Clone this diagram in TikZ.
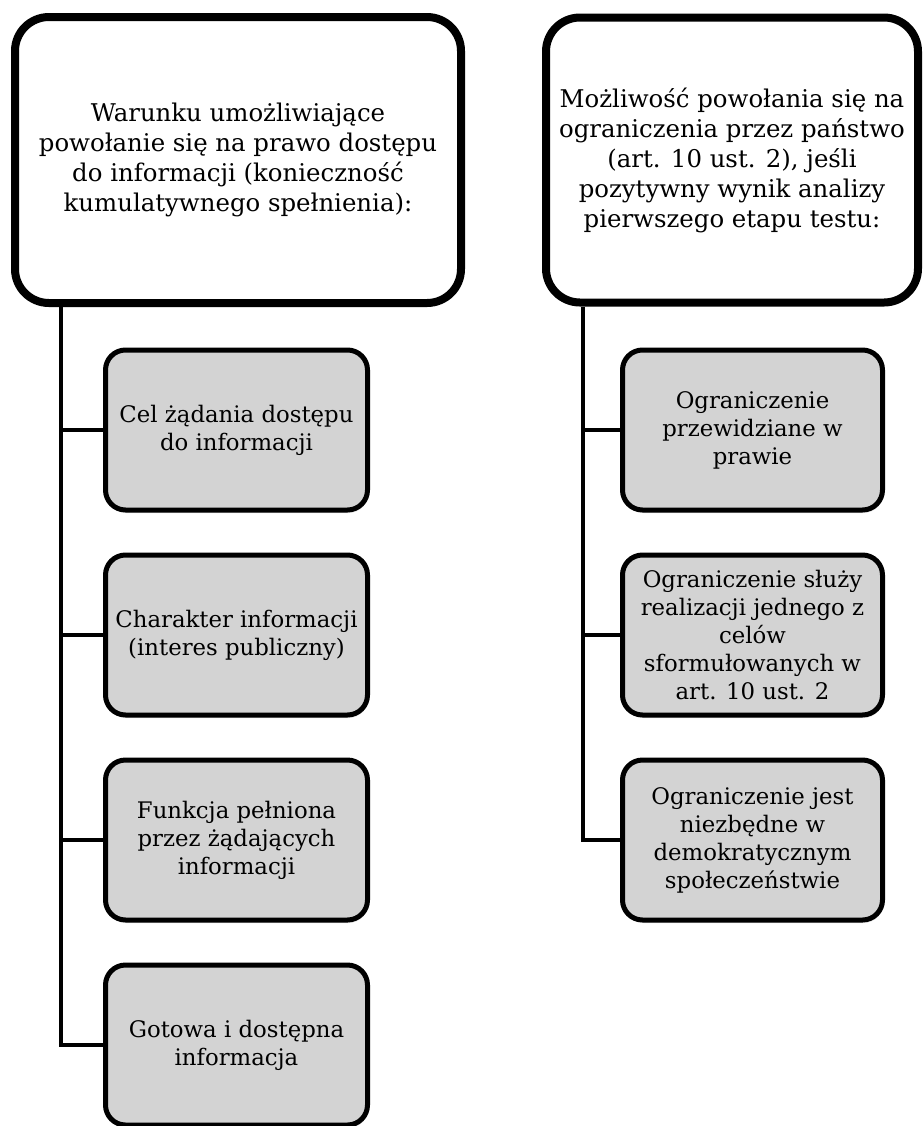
\documentclass[tikz,border=0pt]{standalone}
\usepackage{fontspec}
\setmainfont{DejaVu Serif}
\usepackage{tikz}
\usetikzlibrary{shadows}
\definecolor{boxgray}{RGB}{211,211,211}
\tikzset{
  softshadow/.style={drop shadow={opacity=0.2,shadow xshift=0.5pt,shadow yshift=-1.5pt}},
  bigbox/.style={draw,line width=4pt,rounded corners=17pt,fill=white,align=center,inner sep=0pt,softshadow,font=\fontsize{12.2}{15}\selectfont},
  smallbox/.style={draw,line width=2.5pt,rounded corners=10pt,fill=boxgray,align=center,inner sep=0pt,softshadow,minimum width=131pt,minimum height=80pt,font=\fontsize{11.4}{14}\selectfont},
  conn/.style={line width=2pt}
}

\begin{document}
\begin{tikzpicture}[x=0.5pt,y=-0.5pt]
\useasboundingbox (0,0) rectangle (923,1126);
\node[bigbox,minimum width=223pt,minimum height=143pt] (war) at (238,160) {Warunku umożliwiające\\powołanie się na prawo dostępu\\do informacji (konieczność\\kumulatywnego spełnienia):};
\node[bigbox,minimum width=186pt,minimum height=142.5pt] (moz) at (732,160) {Możliwość powołania się na\\ograniczenia przez państwo\\(art. 10 ust. 2), jeśli\\pozytywny wynik analizy\\pierwszego etapu testu:};
\node[smallbox] (cel) at (236.5,430) {Cel żądania dostępu\\do informacji};
\node[smallbox] (char) at (236.5,635) {Charakter informacji\\(interes publiczny)};
\node[smallbox] (fun) at (236.5,840) {Funkcja pełniona\\przez żądających\\informacji};
\node[smallbox] (got) at (236.5,1045) {Gotowa i dostępna\\informacja};
\node[smallbox,minimum width=130pt] (prawo) at (752.5,430) {Ograniczenie\\przewidziane w\\prawie};
\node[smallbox,minimum width=130pt] (cele) at (752.5,635) {Ograniczenie służy\\realizacji jednego z\\celów\\sformułowanych w\\art. 10 ust. 2};
\node[smallbox,minimum width=130pt] (demo) at (752.5,840) {Ograniczenie jest\\niezbędne w\\demokratycznym\\społeczeństwie};
\coordinate (lt) at (61,0);
\coordinate (rt) at (583,0);
\draw[conn] (lt |- war.south) -- (lt |- got) -- (got.west);
\foreach \n in {cel,char,fun} \draw[conn] (lt |- \n) -- (\n.west);
\draw[conn] (rt |- moz.south) -- (rt |- demo) -- (demo.west);
\foreach \n in {prawo,cele} \draw[conn] (rt |- \n) -- (\n.west);
\end{tikzpicture}
\end{document}
